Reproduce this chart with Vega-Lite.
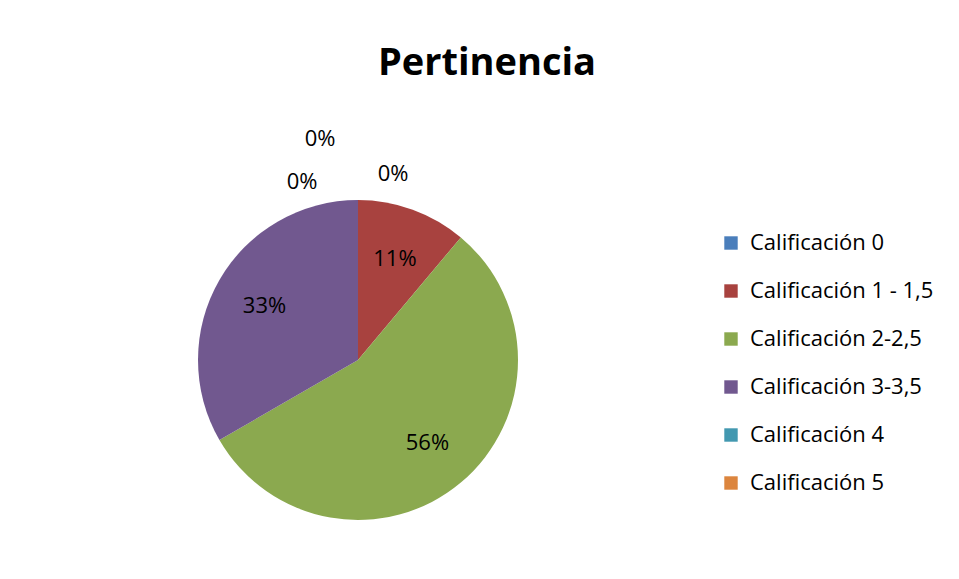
{
  "$schema": "https://vega.github.io/schema/vega-lite/v6.json",
  "width": 696,
  "height": 440,
  "autosize": "none",
  "padding": {"left": 10, "top": 140, "right": 253, "bottom": 0},
  "background": "white",
  "title": {
    "text": "Pertinencia",
    "font": "Open Sans",
    "fontSize": 38,
    "fontWeight": "bold",
    "color": "black",
    "anchor": "middle",
    "dx": 129,
    "offset": 45
  },
  "data": {
    "values": [
      {"idx": 0, "cat": "Calificación 0", "n": 0, "pct": "0%"},
      {"idx": 1, "cat": "Calificación 1 - 1,5", "n": 1, "pct": "11%"},
      {"idx": 2, "cat": "Calificación 2-2,5", "n": 5, "pct": "56%"},
      {"idx": 3, "cat": "Calificación 3-3,5", "n": 3, "pct": "33%"},
      {"idx": 4, "cat": "Calificación 4", "n": 0, "pct": "0%"},
      {"idx": 5, "cat": "Calificación 5", "n": 0, "pct": "0%"}
    ]
  },
  "encoding": {
    "theta": {"field": "n", "type": "quantitative", "stack": true},
    "order": {"field": "idx", "type": "ordinal"}
  },
  "layer": [
    {
      "mark": {"type": "arc", "outerRadius": 160, "stroke": null},
      "encoding": {
        "color": {
          "field": "cat",
          "type": "nominal",
          "sort": {"field": "idx"},
          "scale": {
            "domain": ["Calificación 0", "Calificación 1 - 1,5", "Calificación 2-2,5", "Calificación 3-3,5", "Calificación 4", "Calificación 5"],
            "range": ["#4A7EBB", "#A8423F", "#8BA94F", "#71588F", "#4298B0", "#DC853E"]
          },
          "legend": {
            "title": null,
            "orient": "none",
            "legendX": 710,
            "legendY": 92,
            "symbolType": "square",
            "symbolSize": 180,
            "symbolStrokeWidth": 0,
            "labelFont": "Open Sans",
            "labelFontSize": 22,
            "labelColor": "black",
            "labelLimit": 260,
            "rowPadding": 26,
            "labelOffset": 8
          }
        }
      }
    },
    {
      "transform": [{"filter": "datum.n > 0"}],
      "mark": {"type": "text", "radius": 108, "font": "Open Sans", "fontSize": 22, "color": "black"},
      "encoding": {"text": {"field": "pct"}, "detail": {"field": "cat"}}
    },
    {
      "transform": [{"filter": "datum.idx == 0"}],
      "mark": {"type": "text", "radius": 160, "dx": 35, "dy": -26, "font": "Open Sans", "fontSize": 22, "color": "black"},
      "encoding": {"text": {"field": "pct"}, "detail": {"field": "cat"}}
    },
    {
      "transform": [{"filter": "datum.idx == 4"}],
      "mark": {"type": "text", "radius": 160, "dx": -56, "dy": -18, "font": "Open Sans", "fontSize": 22, "color": "black"},
      "encoding": {"text": {"field": "pct"}, "detail": {"field": "cat"}}
    },
    {
      "transform": [{"filter": "datum.idx == 5"}],
      "mark": {"type": "text", "radius": 160, "dx": -38, "dy": -61, "font": "Open Sans", "fontSize": 22, "color": "black"},
      "encoding": {"text": {"field": "pct"}, "detail": {"field": "cat"}}
    }
  ],
  "config": {"view": {"stroke": null}}
}
